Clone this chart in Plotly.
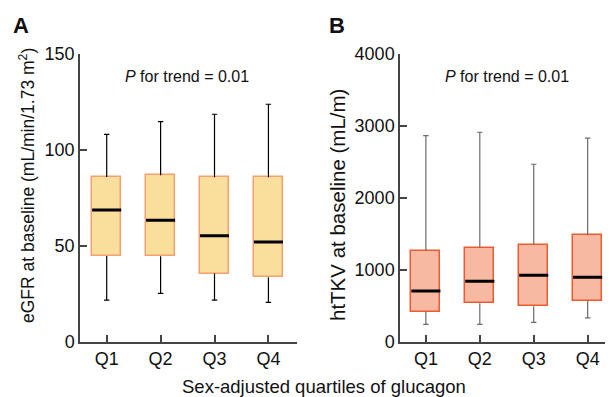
import plotly.graph_objects as go

W, H = 613, 397

quartiles = ["Q1", "Q2", "Q3", "Q4"]
xpos = [1, 2, 3, 4]

# Panel A: eGFR
egfr_low = [21.7, 25.2, 21.7, 20.5]
egfr_q1 = [44.7, 44.5, 35.5, 33.6]
egfr_med = [68.7, 63.3, 55.3, 52.0]
egfr_q3 = [85.9, 86.8, 85.7, 85.7]
egfr_high = [108.1, 114.7, 118.6, 123.8]

# Panel B: htTKV
tkv_low = [242, 242, 270, 330]
tkv_q1 = [417, 534, 492, 570]
tkv_med = [705, 840, 923, 896]
tkv_q3 = [1261, 1307, 1349, 1480]
tkv_high = [2865, 2912, 2467, 2829]

FONT = "Liberation Sans, Arial, sans-serif"
BOXW = 0.54
CAPW = 0.05
OX, OY = 8, 8  # page body margin offset


def px(x):
    return (x - OX) / W


def py(y):
    return 1 - (y - OY) / H


fig = go.Figure()


def add_panel(xa, ya, low, q1, med, q3, high, fill, edge, wcolor):
    wx, wy = [], []
    for x, lo, a, b, hi in zip(xpos, low, q1, q3, high):
        wx += [x, x, None, x, x, None, x - CAPW, x + CAPW, None, x - CAPW, x + CAPW, None]
        wy += [b, hi, None, lo, a, None, hi, hi, None, lo, lo, None]
    fig.add_trace(go.Scatter(x=wx, y=wy, mode="lines", line=dict(color=wcolor, width=1.2),
                             xaxis=xa, yaxis=ya, showlegend=False, hoverinfo="skip"))
    fig.add_trace(go.Bar(x=xpos, base=q1, y=[b - a for a, b in zip(q1, q3)], width=BOXW,
                         marker=dict(color=fill, line=dict(color=edge, width=1.5)),
                         xaxis=xa, yaxis=ya, showlegend=False))
    mx, my = [], []
    for x, m in zip(xpos, med):
        mx += [x - BOXW / 2, x + BOXW / 2, None]
        my += [m, m, None]
    fig.add_trace(go.Scatter(x=mx, y=my, mode="lines", line=dict(color="black", width=3),
                             xaxis=xa, yaxis=ya, showlegend=False, hoverinfo="skip"))


add_panel("x", "y", egfr_low, egfr_q1, egfr_med, egfr_q3, egfr_high, "#FADE9B", "#F4A070", "black")
add_panel("x2", "y2", tkv_low, tkv_q1, tkv_med, tkv_q3, tkv_high, "#F7B9A2", "#EE5A32", "#6a6a6a")

ybot = py(341.7)
ytop = py(54)

axis_common = dict(showline=True, linecolor="#444", linewidth=1.5, ticks="inside", ticklen=7,
                   tickcolor="#444", tickwidth=1.5, showgrid=False, zeroline=False,
                   automargin=False,
                   tickfont=dict(family=FONT, size=18, color="#111"))

fig.update_layout(
    template="none",
    width=W, height=H, margin=dict(l=0, r=0, t=0, b=0, pad=0, autoexpand=False),
    plot_bgcolor="white", paper_bgcolor="white", bargap=0, barmode="overlay",
    xaxis=dict(domain=[px(80), px(297)], range=[0.505, 4.53], tickvals=xpos, ticktext=quartiles,
               anchor="y", **axis_common),
    yaxis=dict(domain=[ybot, ytop], range=[0, 150], tickvals=[0, 50, 100, 150], anchor="x",
               **axis_common),
    xaxis2=dict(domain=[px(400), px(613)], range=[0.52, 4.47], tickvals=xpos, ticktext=quartiles,
                anchor="y2", **axis_common),
    yaxis2=dict(domain=[ybot, ytop], range=[0, 4000], tickvals=[0, 1000, 2000, 3000, 4000],
                anchor="x2", **axis_common),
)

ann = [
    dict(text="<b>A</b>", x=21, y=26, size=22),
    dict(text="<b>B</b>", x=337, y=26, size=22),
    dict(text="<i>P</i> for trend = 0.01", x=186.7, y=76, size=16),
    dict(text="<i>P</i> for trend = 0.01", x=506.7, y=76, size=16),
    dict(text="Sex-adjusted quartiles of glucagon", x=323.5, y=386, size=18.5),
    dict(text="eGFR at baseline (mL/min/1.73 m<sup>2</sup>)", x=27, y=186, size=17.5, angle=-90),
    dict(text="htTKV at baseline (mL/m)", x=337, y=205, size=20.5, angle=-90),
]
for a in ann:
    fig.add_annotation(text=a["text"], x=px(a["x"]), y=py(a["y"]), xref="paper", yref="paper",
                       xanchor="center", yanchor="middle", showarrow=False,
                       textangle=a.get("angle", 0),
                       font=dict(family=FONT, size=a["size"], color="#111"))

fig.write_html("out.html")
